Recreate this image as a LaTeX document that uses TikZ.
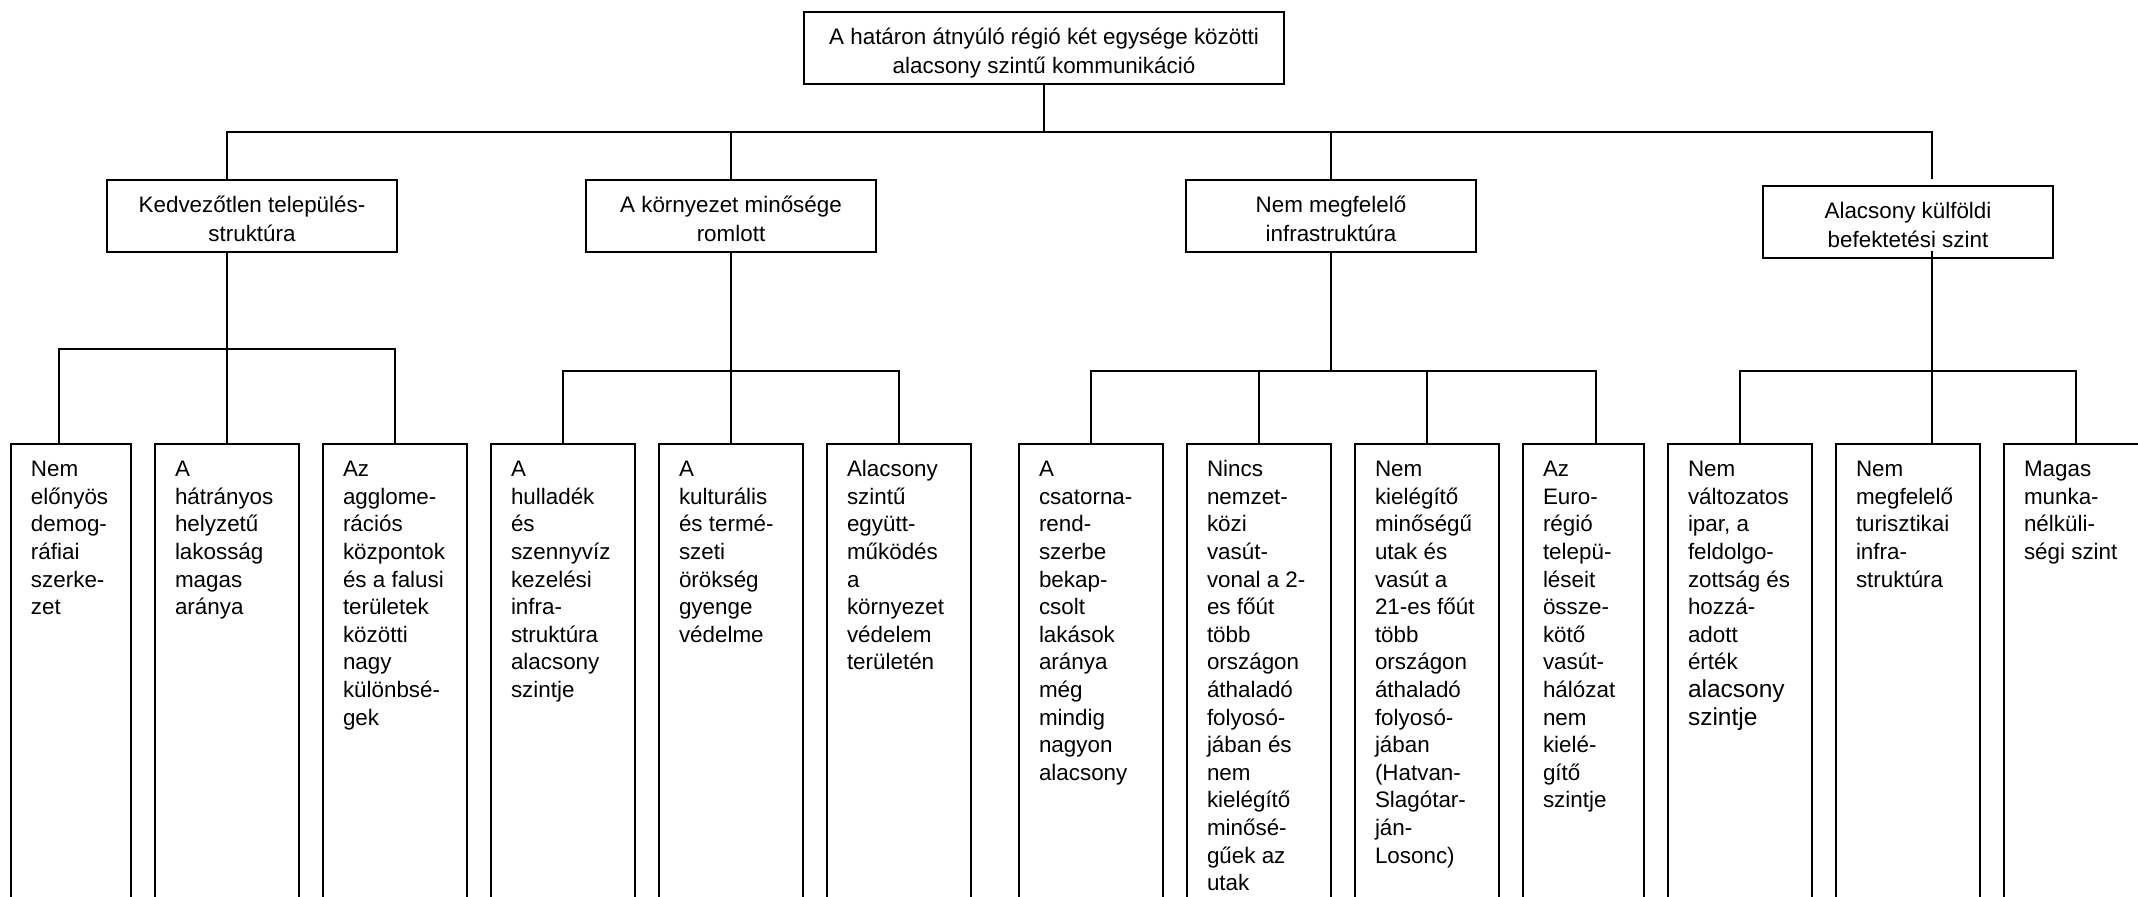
\documentclass[tikz,border=0pt]{standalone}
\usepackage{fontspec}
\setmainfont{Liberation Sans}
\usetikzlibrary{calc}

\tikzset{
  head/.style={draw, line width=1pt, inner xsep=0pt, inner ysep=5.85pt, anchor=north,
    font=\fontsize{11.2}{14.5}\selectfont,
    execute at begin node={\begin{minipage}[t][24.3pt][t]{#1}\centering\strut},
    execute at end node={\end{minipage}}},
  head/.default=145pt,
  leaf/.style={draw, line width=1pt, inner xsep=10pt, inner ysep=6.7pt, anchor=north,
    font=\fontsize{11.2}{13.8}\selectfont,
    execute at begin node={\begin{minipage}[t][260pt][t]{#1}\raggedright\strut},
    execute at end node={\end{minipage}}},
  leaf/.default=52pt,
  wire/.style={line width=1pt}
}

\begin{document}
\begin{tikzpicture}[x=0.5pt,y=-0.5pt]
\useasboundingbox (0,0) rectangle (2138,896);
\clip (0,0) rectangle (2138,896);

\node[head=240pt] (root) at (1044,11) {A határon átnyúló régió két egysége közötti\\alacsony szintű kommunikáció};

\node[head] (k1) at (252,179) {Kedvezőtlen település-\hspace*{14pt}\\struktúra};
\node[head] (k2) at (731,179) {A környezet minősége\\romlott};
\node[head] (k3) at (1331,179) {Nem megfelelő\\infrastruktúra};
\node[head] (k4) at (1908,185) {Alacsony külföldi\\befektetési szint};

\node[leaf=40pt] (l1) at (71,443) {Nem\\előnyös\\demog-\\ráfiai\\szerke-\\zet};
\node[leaf] (l2) at (227,443) {A\\hátrányos\\helyzetű\\lakosság\\magas\\aránya};
\node[leaf] (l3) at (395,443) {Az\\agglome-\\rációs\\központok\\és a falusi\\területek\\közötti\\nagy\\különbsé-\\gek};
\node[leaf] (l4) at (563,443) {A\\hulladék\\és\\szennyvíz\\kezelési\\infra-\\struktúra\\alacsony\\szintje};
\node[leaf] (l5) at (731,443) {A\\kulturális\\és termé-\\szeti\\örökség\\gyenge\\védelme};
\node[leaf] (l6) at (899,443) {Alacsony\\szintű\\együtt-\\működés\\a\\környezet\\védelem\\területén};
\node[leaf] (l7) at (1091,443) {A\\csatorna-\\rend-\\szerbe\\bekap-\\csolt\\lakások\\aránya\\még\\mindig\\nagyon\\alacsony};
\node[leaf] (l8) at (1259,443) {Nincs\\nemzet-\\közi\\vasút-\\vonal a 2-\\es főút\\több\\országon\\áthaladó\\folyosó-\\jában és\\nem\\kielégítő\\minősé-\\gűek az\\utak};
\node[leaf] (l9) at (1427,443) {Nem\\kielégítő\\minőségű\\utak és\\vasút a\\21-es főút\\több\\országon\\áthaladó\\folyosó-\\jában\\(Hatvan-\\Slagótar-\\ján-\\Losonc)};
\node[leaf=40.5pt] (l10) at (1583.5,443) {Az\\Euro-\\régió\\telepü-\\léseit\\össze-\\kötő\\vasút-\\hálózat\\nem\\kielé-\\gítő\\szintje};
\node[leaf] (l11) at (1740,443) {Nem\\változatos\\ipar, a\\feldolgo-\\zottság és\\hozzá-\\adott\\érték\\{\fontsize{12.25}{13.8}\selectfont alacsony\\szintje}};
\node[leaf] (l12) at (1908,443) {Nem\\megfelelő\\turisztikai\\infra-\\struktúra};
\node[leaf] (l13) at (2076,443) {Magas\\munka-\\nélküli-\\ségi szint};

\coordinate (c1) at ($(l1.north)+(-12,0)$);
\coordinate (c10) at ($(l10.north)+(12.5,0)$);
\coordinate (c12) at ($(l12.north)+(24,0)$);
\coordinate (c4) at ($(k4.south)+(24,-8)$);
\coordinate (bus0) at (0,132);
\coordinate (bus1) at (0,349);
\coordinate (bus2) at (0,371);

\draw[wire] (root.south) -- (root.south |- bus0);
\draw[wire] (l2.north |- k1.north) |- (c12 |- bus0) -- (c12 |- k1.north);
\draw[wire] (k2.north) -- (k2.north |- bus0);
\draw[wire] (k3.north) -- (k3.north |- bus0);
\draw[wire] (c1) |- (l3.north |- bus1) -- (l3.north);
\draw[wire] (k1.south -| l2.north) -- (l2.north);
\draw[wire] (l4.north) |- (l6.north |- bus2) -- (l6.north);
\draw[wire] (k2.south) -- (l5.north);
\draw[wire] (l7.north) |- (c10 |- bus2) -- (c10);
\draw[wire] (l8.north) -- (l8.north |- bus2);
\draw[wire] (l9.north) -- (l9.north |- bus2);
\draw[wire] (k3.south) -- (k3.south |- bus2);
\draw[wire] (l11.north) |- (l13.north |- bus2) -- (l13.north);
\draw[wire] (c4) -- (c12);
\end{tikzpicture}
\end{document}
